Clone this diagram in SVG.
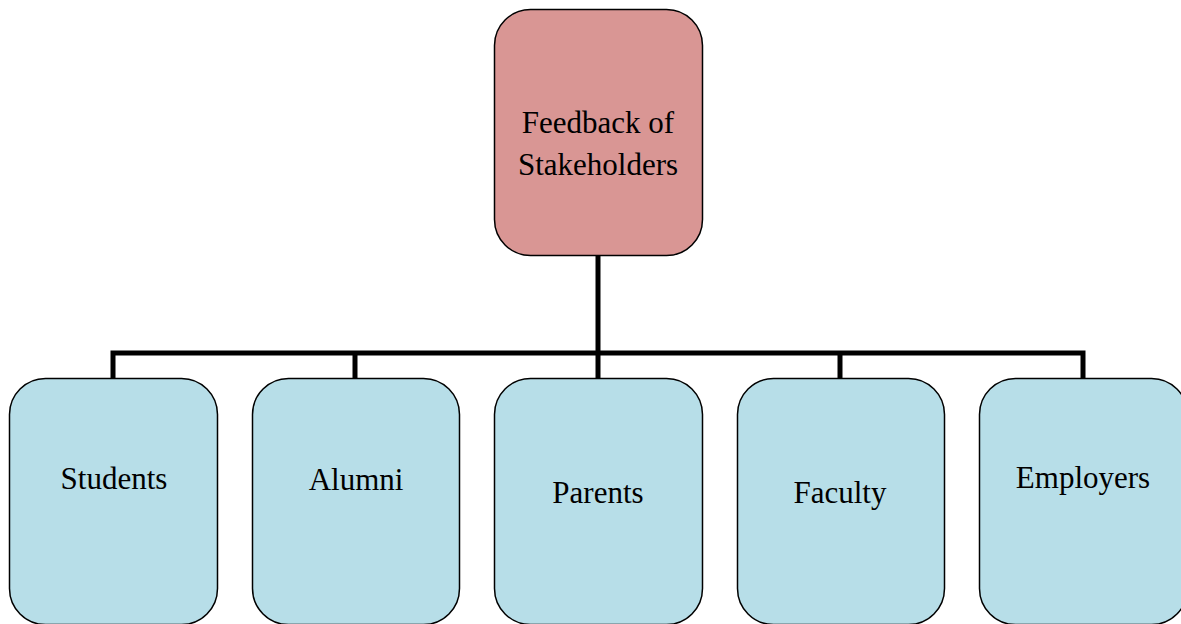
<svg xmlns="http://www.w3.org/2000/svg" width="1181" height="624" viewBox="0 0 1181 624">
<style>
.box{stroke:#000;stroke-width:1.5}
.root{fill:#D99694}
.leaf{fill:#B7DEE8}
.lbl{font-family:"Liberation Serif","Times New Roman",serif;font-size:31px;fill:#000;text-anchor:middle}
.conn{fill:none;stroke:#000;stroke-width:5;stroke-linejoin:miter;stroke-linecap:butt}
</style>
<rect width="1181" height="624" fill="#fff"/>
<g id="connectors">
<path class="conn" d="M598,256 V353"/>
<path class="conn" d="M113,378 V353 H1083 V378"/>
<path class="conn" d="M355,353 V378"/>
<path class="conn" d="M598,353 V378"/>
<path class="conn" d="M840,353 V378"/>
</g>
<g id="node-root">
<rect class="box root" x="494.5" y="9.5" width="208" height="246" rx="36"/>
<text class="lbl" x="598" y="133">Feedback of</text>
<text class="lbl" x="598" y="175">Stakeholders</text>
</g>
<g id="node-students">
<rect class="box leaf" x="9.5" y="378.5" width="208" height="246" rx="36"/>
<text class="lbl" x="114" y="489">Students</text>
</g>
<g id="node-alumni">
<rect class="box leaf" x="252.5" y="378.5" width="207" height="246" rx="36"/>
<text class="lbl" x="356" y="490">Alumni</text>
</g>
<g id="node-parents">
<rect class="box leaf" x="494.5" y="378.5" width="208" height="246" rx="36"/>
<text class="lbl" x="598" y="503">Parents</text>
</g>
<g id="node-faculty">
<rect class="box leaf" x="737.5" y="378.5" width="207" height="246" rx="36"/>
<text class="lbl" x="840" y="503">Faculty</text>
</g>
<g id="node-employers">
<rect class="box leaf" x="979.5" y="378.5" width="208" height="246" rx="36"/>
<text class="lbl" x="1083" y="488">Employers</text>
</g>
</svg>
